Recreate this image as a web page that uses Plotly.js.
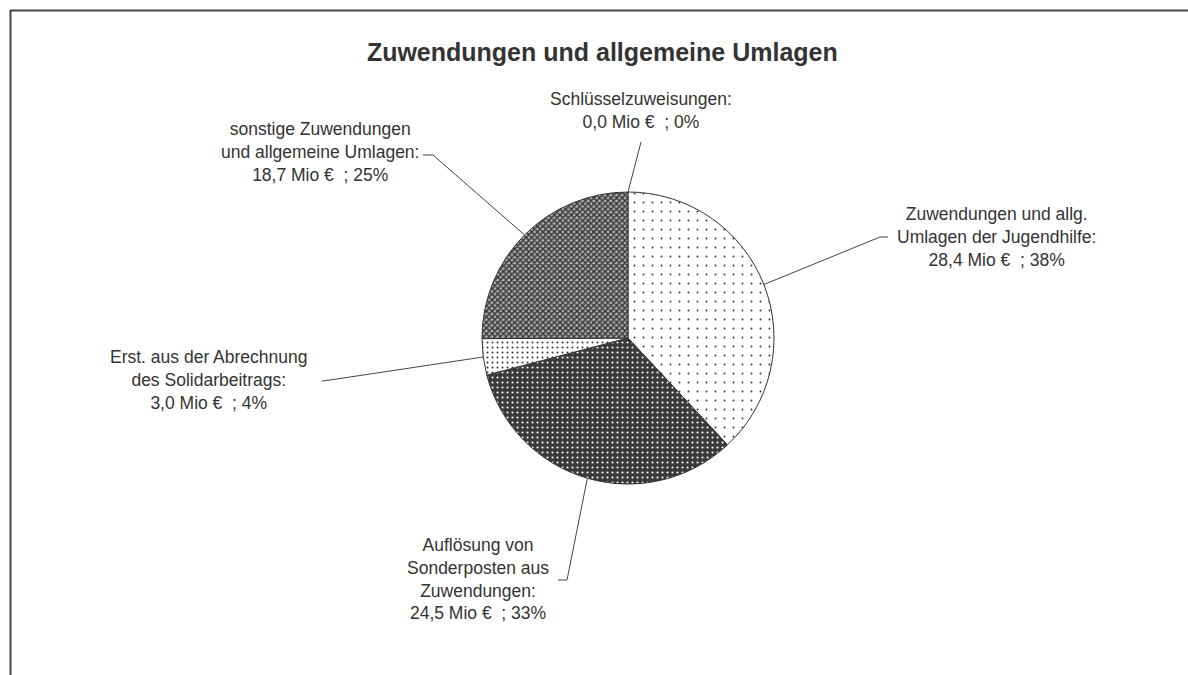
<!DOCTYPE html>
<html>
<head>
<meta charset="utf-8">
<script src="https://cdn.plot.ly/plotly-3.0.1.min.js"></script>
<style>html,body{margin:0;padding:0;background:#fff;}#chart{width:1188px;height:675px;}</style>
</head>
<body>
<div id="chart"></div>
<script>
// ---- data ----
var categories = [
  "Schlüsselzuweisungen",
  "Zuwendungen und allg. Umlagen der Jugendhilfe",
  "Auflösung von Sonderposten aus Zuwendungen",
  "Erst. aus der Abrechnung des Solidarbeitrags",
  "sonstige Zuwendungen und allgemeine Umlagen"
];
var valuesMio = [0.0, 28.4, 24.5, 3.0, 18.7];
var percentLabels = ["0%", "38%", "33%", "4%", "25%"];
var labelTexts = [
  "Schlüsselzuweisungen:<br>0,0 Mio €  ; 0%",
  "Zuwendungen und allg.<br>Umlagen der Jugendhilfe:<br>28,4 Mio €  ; 38%",
  "Auflösung von<br>Sonderposten aus<br>Zuwendungen:<br>24,5 Mio €  ; 33%",
  "Erst. aus der Abrechnung<br>des Solidarbeitrags:<br>3,0 Mio €  ; 4%",
  "sonstige Zuwendungen<br>und allgemeine Umlagen:<br>18,7 Mio €  ; 25%"
];

// ---- layout geometry (pixels) ----
var W = 1188, H = 675;
var cx = 628, cy = 338, R = 146;
// label block centers and leader-line elbow points
var labelPos = [[641, 111], [996, 237], [478, 579], [208, 380], [320, 152]];
var elbow = [[641, 142], [880, 237], [567, 580], [330, 380], [433, 155]];
var tailEnd = [null, [888, 237], [558, 580], [322, 381], [423, 155]];

function px(x){ return x / W; }
function py(y){ return 1 - y / H; }

var total = valuesMio.reduce(function(a,b){return a+b;}, 0);
var shapes = [];
var annotations = [];
var cum = 0;
for (var i = 0; i < valuesMio.length; i++) {
  var mid = (cum + valuesMio[i] / 2) / total;
  cum += valuesMio[i];
  var ang = mid * 2 * Math.PI;
  var ex = cx + R * Math.sin(ang);
  var ey = cy - R * Math.cos(ang);
  var p = 'M ' + px(ex) + ' ' + py(ey) + ' L ' + px(elbow[i][0]) + ' ' + py(elbow[i][1]);
  if (tailEnd[i]) p += ' L ' + px(tailEnd[i][0]) + ' ' + py(tailEnd[i][1]);
  shapes.push({type: 'path', xref: 'paper', yref: 'paper', path: p,
               line: {color: '#444', width: 1}});
  annotations.push({
    xref: 'paper', yref: 'paper', x: px(labelPos[i][0]), y: py(labelPos[i][1]),
    xanchor: 'center', yanchor: 'middle', align: 'center', showarrow: false,
    text: labelTexts[i],
    font: {family: 'Liberation Sans, Arial, sans-serif', size: 17.5, color: '#333'}
  });
}
// outer frame (top and left edges visible)
shapes.push({type: 'line', xref: 'paper', yref: 'paper', x0: px(10), x1: 1.01, y0: py(10.5), y1: py(10.5), line: {color: '#444', width: 2}});
shapes.push({type: 'line', xref: 'paper', yref: 'paper', x0: px(10.5), x1: px(10.5), y0: py(10), y1: -0.01, line: {color: '#444', width: 2}});

var trace = {
  type: 'pie',
  labels: categories,
  values: valuesMio,
  sort: false,
  direction: 'clockwise',
  rotation: 0,
  textinfo: 'none',
  hoverinfo: 'label+value+percent',
  showlegend: false,
  domain: {x: [px(cx - R), px(cx + R)], y: [py(cy + R), py(cy - R)]},
  marker: {
    colors: ['#ffffff', '#ffffff', '#3a3a3a', '#ffffff', '#b0b0b0'],
    line: {color: '#333', width: 1},
    pattern: {
      shape: ['', '.', '.', '.', 'x'],
      fgcolor: ['#333', '#333', '#ffffff', '#333', '#333333'],
      bgcolor: ['#ffffff', '#ffffff', '#3a3a3a', '#ffffff', '#b0b0b0'],
      size: [8, 9, 5, 5, 4],
      solidity: [0.1, 0.035, 0.14, 0.12, 0.6],
      fillmode: 'replace'
    }
  }
};

var layout = {
  width: W, height: H, autosize: false,
  margin: {l: 0, r: 0, t: 0, b: 0},
  paper_bgcolor: '#ffffff',
  title: {text: '<b>Zuwendungen und allgemeine Umlagen</b>', x: 0.507, xanchor: 'center', y: py(52), yanchor: 'middle',
          font: {family: 'Liberation Sans, Arial, sans-serif', size: 25, color: '#333'}},
  shapes: shapes,
  annotations: annotations
};

Plotly.newPlot('chart', [trace], layout, {displayModeBar: false, staticPlot: true});
</script>
</body>
</html>
